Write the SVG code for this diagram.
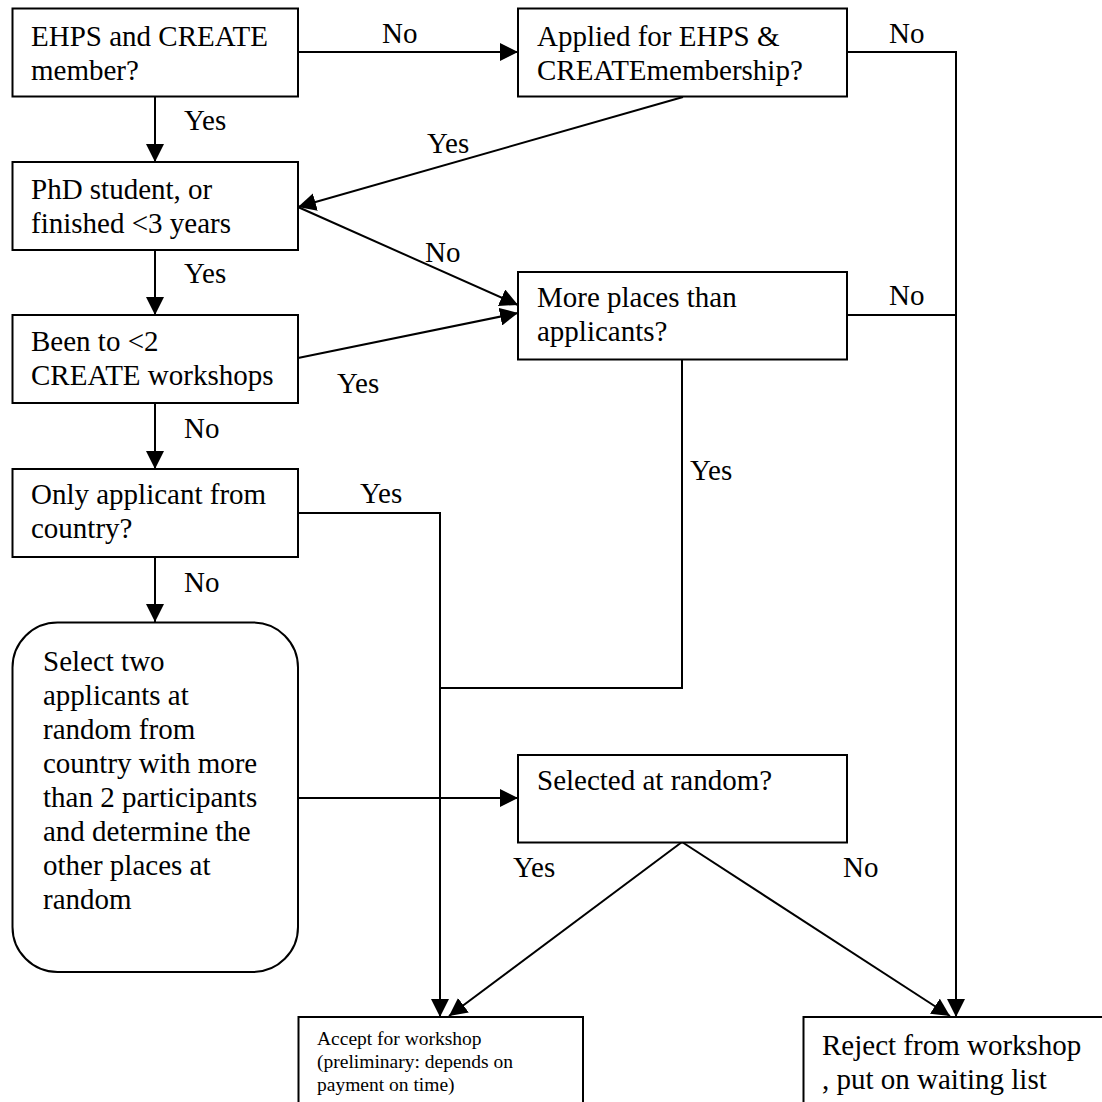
<svg xmlns="http://www.w3.org/2000/svg" width="1102" height="1102" viewBox="0 0 1102 1102">
<defs>
<style>
.box{fill:#fff;stroke:#000;stroke-width:2}
.t{font-family:"Liberation Serif","Times New Roman",serif;font-size:29px;fill:#000}
.s{font-family:"Liberation Serif","Times New Roman",serif;font-size:19.5px;fill:#000}
.c{fill:none;stroke:#000;stroke-width:2}
</style>
<marker id="a" viewBox="0 0 10 10" refX="10" refY="5" markerWidth="18" markerHeight="18" markerUnits="userSpaceOnUse" orient="auto">
<path d="M0,0 L10,5 L0,10 z" fill="#000"/>
</marker>
</defs>
<rect width="1102" height="1102" fill="#fff"/>
<g id="connectors">
<line class="c" x1="298" y1="52" x2="518" y2="52" marker-end="url(#a)"/>
<polyline class="c" points="847,52 956,52 956,1017" marker-end="url(#a)"/>
<line class="c" x1="155" y1="97" x2="155" y2="162" marker-end="url(#a)"/>
<line class="c" x1="683" y1="97" x2="298" y2="207" marker-end="url(#a)"/>
<line class="c" x1="298" y1="207" x2="518" y2="305" marker-end="url(#a)"/>
<line class="c" x1="155" y1="250" x2="155" y2="315" marker-end="url(#a)"/>
<line class="c" x1="298" y1="358" x2="518" y2="313" marker-end="url(#a)"/>
<line class="c" x1="847" y1="315" x2="956" y2="315"/>
<polyline class="c" points="682,360 682,688 440,688"/>
<line class="c" x1="155" y1="403" x2="155" y2="469" marker-end="url(#a)"/>
<polyline class="c" points="298,513 440,513 440,1017" marker-end="url(#a)"/>
<line class="c" x1="155" y1="557" x2="155" y2="622" marker-end="url(#a)"/>
<line class="c" x1="298" y1="798" x2="518" y2="798" marker-end="url(#a)"/>
<line class="c" x1="682" y1="842" x2="449" y2="1016" marker-end="url(#a)"/>
<line class="c" x1="682" y1="842" x2="950" y2="1016" marker-end="url(#a)"/>
<text class="t" x="382" y="43">No</text>
<text class="t" x="889" y="43">No</text>
<text class="t" x="184" y="130">Yes</text>
<text class="t" x="427" y="153">Yes</text>
<text class="t" x="425" y="262">No</text>
<text class="t" x="184" y="283">Yes</text>
<text class="t" x="889" y="305">No</text>
<text class="t" x="337" y="393">Yes</text>
<text class="t" x="184" y="438">No</text>
<text class="t" x="690" y="480">Yes</text>
<text class="t" x="360" y="503">Yes</text>
<text class="t" x="184" y="592">No</text>
<text class="t" x="513" y="877">Yes</text>
<text class="t" x="843" y="877">No</text>
</g>
<g id="n1"><rect class="box" x="12.5" y="8.5" width="285.5" height="88"/><text class="t" x="31" y="45.5">EHPS and CREATE</text><text class="t" x="31" y="79.5">member?</text></g>
<g id="n2"><rect class="box" x="518" y="8.5" width="329" height="88"/><text class="t" x="537" y="45.5">Applied for EHPS &amp;</text><text class="t" x="537" y="79.5">CREATEmembership?</text></g>
<g id="n3"><rect class="box" x="12.5" y="162" width="285.5" height="88"/><text class="t" x="31" y="199">PhD student, or</text><text class="t" x="31" y="233">finished &lt;3 years</text></g>
<g id="n4"><rect class="box" x="12.5" y="315" width="285.5" height="88"/><text class="t" x="31" y="351">Been to &lt;2</text><text class="t" x="31" y="385">CREATE workshops</text></g>
<g id="n5"><rect class="box" x="518" y="272" width="329" height="87.5"/><text class="t" x="537" y="307">More places than</text><text class="t" x="537" y="341">applicants?</text></g>
<g id="n6"><rect class="box" x="12.5" y="469" width="285.5" height="88"/><text class="t" x="31" y="504">Only applicant from</text><text class="t" x="31" y="538">country?</text></g>
<g id="n7"><rect class="box" x="12.5" y="622.5" width="285.5" height="349.5" rx="45" ry="45"/>
<text class="t" x="43" y="671">Select two</text><text class="t" x="43" y="705">applicants at</text><text class="t" x="43" y="739">random from</text><text class="t" x="43" y="773">country with more</text><text class="t" x="43" y="807">than 2 participants</text><text class="t" x="43" y="841">and determine the</text><text class="t" x="43" y="875">other places at</text><text class="t" x="43" y="909">random</text></g>
<g id="n8"><rect class="box" x="518" y="755" width="329" height="87.5"/><text class="t" x="537" y="790">Selected at random?</text></g>
<g id="n9"><rect class="box" x="298.5" y="1017" width="284.5" height="100"/><text class="s" x="317" y="1045">Accept for workshop</text><text class="s" x="317" y="1068">(preliminary:  depends on</text><text class="s" x="317" y="1091">payment on time)</text></g>
<g id="n10"><rect class="box" x="803.5" y="1017" width="320" height="100"/><text class="t" x="822" y="1055">Reject from workshop</text><text class="t" x="822" y="1089">, put on waiting list</text></g>
</svg>
